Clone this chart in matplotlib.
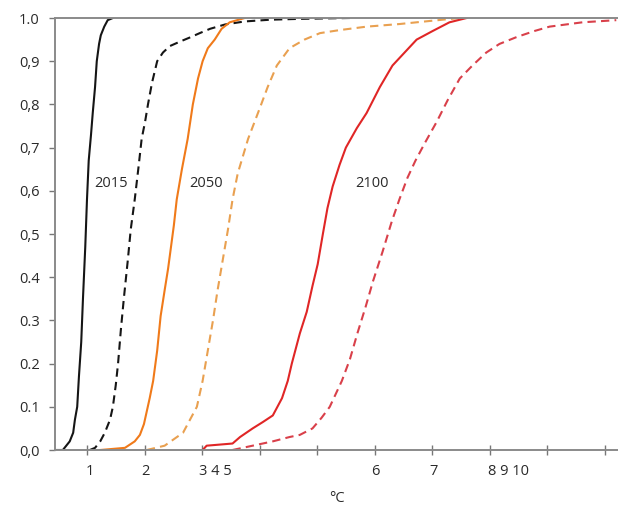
import matplotlib
matplotlib.use("Agg")
import matplotlib.pyplot as plt

# ---- data (x in axis units: tick k sits at value k) ----
x_2015 = [0.44, 0.58, 0.64, 0.70, 0.76, 0.79, 0.83, 0.86, 0.90, 0.93, 0.97, 1.00, 1.03, 1.07, 1.10, 1.14, 1.17, 1.21, 1.24, 1.30, 1.36, 1.45]
y_2015 = [0.0, 0.0, 0.01, 0.02, 0.04, 0.07, 0.10, 0.17, 0.25, 0.35, 0.47, 0.58, 0.67, 0.73, 0.78, 0.84, 0.90, 0.94, 0.96, 0.98, 0.995, 1.0]

x_2015d = [1.05, 1.14, 1.23, 1.31, 1.40, 1.45, 1.50, 1.54, 1.59, 1.64, 1.71, 1.76, 1.83, 1.90, 1.95, 2.01, 2.06, 2.13, 2.22, 2.32, 2.44, 2.61, 2.79, 2.96, 3.14, 3.40, 3.74, 4.18, 4.70, 5.57]
y_2015d = [0.0, 0.005, 0.02, 0.04, 0.07, 0.10, 0.15, 0.20, 0.28, 0.35, 0.44, 0.51, 0.58, 0.66, 0.72, 0.76, 0.80, 0.85, 0.90, 0.92, 0.935, 0.945, 0.955, 0.965, 0.975, 0.985, 0.992, 0.996, 0.998, 1.0]

x_2050 = [1.23, 1.66, 1.83, 1.92, 1.99, 2.04, 2.09, 2.15, 2.22, 2.28, 2.35, 2.41, 2.46, 2.51, 2.56, 2.65, 2.75, 2.84, 2.93, 3.01, 3.10, 3.22, 3.34, 3.48, 3.74]
y_2050 = [0.0, 0.005, 0.02, 0.035, 0.06, 0.09, 0.12, 0.16, 0.23, 0.31, 0.37, 0.42, 0.47, 0.52, 0.58, 0.65, 0.72, 0.80, 0.86, 0.90, 0.93, 0.95, 0.975, 0.99, 1.0]

x_2050d = [2.04, 2.35, 2.67, 2.79, 2.91, 3.01, 3.10, 3.19, 3.27, 3.36, 3.45, 3.53, 3.62, 3.71, 3.80, 4.00, 4.14, 4.30, 4.52, 4.78, 5.05, 5.39, 5.86, 6.43, 6.95, 7.48]
y_2050d = [0.0, 0.01, 0.04, 0.07, 0.10, 0.16, 0.23, 0.30, 0.37, 0.44, 0.51, 0.58, 0.64, 0.68, 0.72, 0.79, 0.84, 0.89, 0.93, 0.95, 0.965, 0.972, 0.98, 0.986, 0.993, 1.0]

x_2100 = [3.01, 3.08, 3.53, 3.66, 3.88, 4.06, 4.23, 4.39, 4.49, 4.56, 4.70, 4.82, 4.92, 5.01, 5.10, 5.18, 5.27, 5.39, 5.50, 5.69, 5.86, 6.09, 6.31, 6.52, 6.73, 7.01, 7.30, 7.60]
y_2100 = [0.0, 0.01, 0.015, 0.03, 0.05, 0.065, 0.08, 0.12, 0.16, 0.20, 0.27, 0.32, 0.38, 0.43, 0.50, 0.56, 0.61, 0.66, 0.70, 0.745, 0.78, 0.84, 0.89, 0.92, 0.95, 0.97, 0.99, 1.0]

x_2100d = [3.53, 3.88, 4.23, 4.52, 4.70, 4.92, 5.08, 5.22, 5.43, 5.57, 5.70, 5.84, 5.97, 6.14, 6.30, 6.43, 6.57, 6.71, 6.87, 7.08, 7.27, 7.48, 7.70, 7.94, 8.17, 8.47, 8.78, 9.04, 9.61, 10.20]
y_2100d = [0.0, 0.01, 0.02, 0.03, 0.035, 0.05, 0.075, 0.10, 0.16, 0.21, 0.27, 0.33, 0.39, 0.46, 0.53, 0.58, 0.63, 0.67, 0.71, 0.76, 0.81, 0.86, 0.89, 0.92, 0.94, 0.956, 0.97, 0.98, 0.99, 0.995]

x_ticks = [1, 2, 3, 4, 5, 6, 7, 8, 9, 10]
x_label_pos = [1.05, 2.02, 3.23, 6.02, 7.02, 8.33]
x_label_txt = ["1", "2", "3 4 5", "6", "7", "8 9 10"]
y_ticks = [0.0, 0.1, 0.2, 0.3, 0.4, 0.5, 0.6, 0.7, 0.8, 0.9, 1.0]
y_tick_txt = ["0,0", "0.1", "0.2", "0.3", "0.4", "0,5", "0,6", "0,7", "0,8", "0,9", "1.0"]

year_labels = ["2015", "2050", "2100"]
year_label_x = [1.42, 3.07, 5.95]
year_label_y = [0.618, 0.618, 0.618]

plt.rcParams['font.family'] = ['Open Sans', 'DejaVu Sans']
txt_col = "#2a2a2a"

fig = plt.figure(figsize=(6.18, 5.12), dpi=100)
ax = fig.add_axes([55/618, 1-450/512, 1-55/618, (450-18)/512])

dash = (0, (4, 2.5))
ax.plot(x_2015, y_2015, color="#151515", lw=1.5)
ax.plot(x_2015d, y_2015d, color="#151515", lw=1.5, linestyle=dash)
ax.plot(x_2050, y_2050, color="#f07a1a", lw=1.5)
ax.plot(x_2050d, y_2050d, color="#e9a050", lw=1.5, linestyle=dash)
ax.plot(x_2100, y_2100, color="#e02626", lw=1.5)
ax.plot(x_2100d, y_2100d, color="#d9404a", lw=1.5, linestyle=dash)

for t, xx, yy in zip(year_labels, year_label_x, year_label_y):
    ax.text(xx, yy, t, ha="center", va="center", fontsize=10.5, color=txt_col)

ax.set_xlim(0.444, 10.23)
ax.set_ylim(0, 1)

ax.set_xticks(x_ticks)
ax.set_xticklabels([""] * len(x_ticks))
ax.set_xticks(x_label_pos, x_label_txt, minor=True)
ax.tick_params(axis="x", which="major", direction="inout", length=7, width=1, color="#777777")
ax.tick_params(axis="x", which="minor", length=0, pad=10, labelsize=10.5, labelcolor=txt_col)

ax.set_yticks(y_ticks, y_tick_txt)
ax.tick_params(axis="y", direction="out", length=4, width=1, color="#777777", pad=7,
               labelsize=10.5, labelcolor=txt_col)

for s in ["left", "bottom", "top"]:
    ax.spines[s].set_color("#8a8a8a")
    ax.spines[s].set_linewidth(1.4)
ax.spines["right"].set_visible(False)

ax.set_xlabel("°C", fontsize=10.5, color=txt_col, labelpad=9)

fig.savefig("out.png", dpi=100)
